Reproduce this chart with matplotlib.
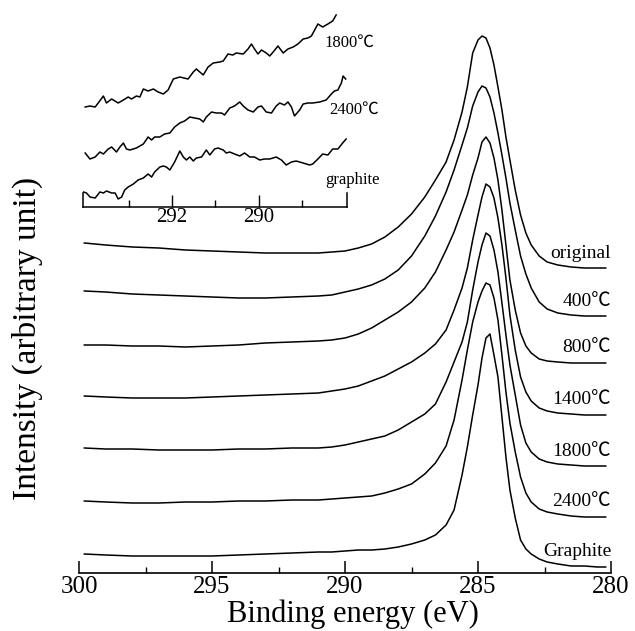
import matplotlib
matplotlib.use("Agg")
import matplotlib.pyplot as plt
from matplotlib.ticker import MultipleLocator, FixedLocator

# ---- main panel: C1s spectra, energies (eV) shared by all curves ----
energy = [299.8, 299.0, 298.0, 297.0, 296.0, 295.0, 294.0, 293.0, 292.0, 291.0,
          290.5, 290.0, 289.5, 289.0, 288.5, 288.0, 287.5, 287.0, 286.6, 286.2,
          285.9, 285.6, 285.4, 285.2, 285.0, 284.85, 284.7, 284.55, 284.4, 284.25,
          284.1, 283.95, 283.8, 283.6, 283.4, 283.2, 283.0, 282.7, 282.4, 282.0,
          281.5, 281.0, 280.5, 280.2]

original = [25, 23, 21, 20, 18, 17, 16, 15, 15, 15,
            16, 17, 20, 24, 31, 41, 54, 71, 88, 106,
            128, 156, 181, 215, 228, 232, 230, 220, 203, 181,
            158, 131, 108, 78, 53, 35, 23, 12, 6, 3,
            1, 0, 0, 0]
t400 = [25, 24, 22, 21, 20, 19, 18, 18, 19, 20,
        21, 24, 27, 31, 37, 46, 60, 80, 100, 124,
        146, 171, 188, 210, 224, 230, 228, 219, 203, 183,
        161, 138, 113, 86, 60, 42, 28, 14, 7, 3,
        1, 0, 0, 0]
t800 = [18, 18, 17, 17, 16, 17, 18, 20, 21, 22,
        23, 25, 29, 35, 43, 51, 61, 75, 91, 113,
        131, 153, 168, 188, 205, 221, 226, 220, 205, 183,
        153, 118, 83, 53, 30, 17, 10, 4, 2, 1,
        0, 0, 0, 0]
t1400 = [19, 18, 17, 17, 17, 18, 19, 20, 21, 22,
         24, 26, 29, 34, 39, 46, 53, 62, 71, 85,
         105, 127, 147, 175, 200, 218, 231, 228, 217, 197,
         170, 137, 100, 65, 38, 23, 14, 7, 4, 2,
         1, 0, 0, 0]
t1800 = [18, 17, 17, 16, 16, 16, 17, 17, 18, 18,
         19, 21, 24, 27, 30, 36, 44, 52, 62, 84,
         104, 124, 144, 176, 204, 221, 233, 230, 216, 194,
         163, 131, 101, 71, 41, 23, 14, 7, 4, 2,
         1, 0, 0, 0]
t2400 = [16, 15, 14, 14, 15, 15, 16, 16, 17, 17,
         18, 19, 20, 21, 24, 28, 33, 43, 54, 71,
         97, 137, 167, 195, 215, 226, 234, 232, 219, 197,
         162, 125, 94, 65, 40, 24, 15, 8, 5, 3,
         1, 0, 0, 0]
graphite = [13, 12, 11, 11, 11, 11, 12, 13, 14, 15,
            15, 16, 17, 17, 18, 20, 23, 27, 32, 42,
            57, 92, 120, 152, 182, 209, 229, 233, 212, 190,
            150, 110, 77, 49, 27, 18, 13, 8, 5, 3,
            1, 1, 0, 0]

series = [original, t400, t800, t1400, t1800, t2400, graphite]
names = ["original", "400\u2103", "800\u2103", "1400\u2103", "1800\u2103",
         "2400\u2103", "Graphite"]
offsets = [363, 315, 268, 216, 165, 114, 64]

# ---- inset: 294-288 eV region, three samples ----
in_e_1800 = [294.0, 293.89, 293.77, 293.70, 293.58, 293.51, 293.39, 293.24, 293.12,
             293.01, 292.93, 292.82, 292.74, 292.66, 292.55, 292.43, 292.32, 292.20,
             292.09, 291.97, 291.82, 291.63, 291.51, 291.44, 291.36, 291.28, 291.17,
             291.05, 290.90, 290.82, 290.71, 290.60, 290.52, 290.36, 290.25, 290.17,
             290.10, 290.02, 289.94, 289.83, 289.75, 289.67, 289.56, 289.44, 289.33,
             289.21, 289.10, 288.98, 288.87, 288.79, 288.64, 288.53, 288.41, 288.30,
             288.22]
in_i_1800 = [5, 6, 5, 9, 16, 9, 13, 9, 12, 15, 13, 16, 15, 23, 21, 23, 20, 18, 22,
             33, 35, 33, 40, 43, 40, 37, 45, 49, 50, 51, 58, 57, 59, 58, 63, 68, 63,
             58, 62, 59, 56, 60, 66, 59, 63, 65, 68, 73, 74, 76, 88, 85, 88, 91, 97]

in_e_2400 = [294.0, 293.89, 293.77, 293.66, 293.58, 293.47, 293.39, 293.28, 293.20,
             293.12, 293.05, 292.97, 292.82, 292.66, 292.55, 292.47, 292.40, 292.28,
             292.17, 292.05, 291.94, 291.82, 291.71, 291.59, 291.48, 291.36, 291.28,
             291.21, 291.09, 290.98, 290.86, 290.79, 290.67, 290.56, 290.44, 290.36,
             290.25, 290.13, 290.02, 289.94, 289.83, 289.71, 289.60, 289.52, 289.41,
             289.33, 289.25, 289.18, 289.06, 288.98, 288.87, 288.76, 288.60, 288.45,
             288.33, 288.26, 288.18, 288.10, 288.06, 288.0]
in_i_2400 = [9, 3, 5, 10, 8, 13, 15, 10, 15, 19, 13, 12, 14, 18, 25, 22, 25, 25, 28,
             29, 35, 39, 41, 45, 44, 43, 40, 45, 50, 49, 49, 47, 54, 56, 60, 56, 52,
             50, 55, 56, 50, 49, 56, 59, 57, 60, 55, 46, 52, 58, 59, 59, 60, 62, 68,
             71, 72, 79, 86, 83]

in_e_gr = [294.04, 293.97, 293.89, 293.77, 293.66, 293.58, 293.51, 293.39, 293.31,
           293.24, 293.16, 293.09, 293.01, 292.89, 292.78, 292.66, 292.55, 292.47,
           292.40, 292.28, 292.20, 292.13, 292.05, 291.94, 291.82, 291.74, 291.67,
           291.59, 291.51, 291.44, 291.32, 291.21, 291.13, 291.02, 290.94, 290.82,
           290.75, 290.67, 290.56, 290.44, 290.33, 290.21, 290.10, 289.98, 289.87,
           289.75, 289.60, 289.48, 289.37, 289.25, 289.14, 288.98, 288.83, 288.76,
           288.64, 288.53, 288.41, 288.30, 288.18, 288.07, 287.99]
in_i_gr = [15, 14, 10, 9, 15, 14, 16, 14, 14, 8, 10, 17, 20, 23, 27, 29, 33, 30, 35,
           40, 41, 40, 37, 45, 56, 50, 47, 50, 46, 49, 50, 57, 52, 58, 59, 57, 54, 55,
           53, 51, 54, 50, 50, 47, 48, 48, 50, 47, 42, 45, 46, 44, 42, 43, 48, 53, 52,
           58, 58, 64, 68]

inset_series = [(in_e_1800, in_i_1800), (in_e_2400, in_i_2400), (in_e_gr, in_i_gr)]
inset_names = ["1800\u2103", "2400\u2103", "graphite"]
inset_offsets = [95, 45, 0]

FONT = ["Liberation Serif", "Noto Sans CJK SC"]
plt.rcParams["font.family"] = FONT

fig = plt.figure(figsize=(6.35, 6.31), dpi=100)

ax = fig.add_axes([79 / 635, 58 / 631, 532 / 635, 573 / 631])
for y, off, name in zip(series, offsets, names):
    ax.plot(energy, [v + off for v in y], color="black", lw=1.1)
    ax.text(280, off + 15, name, ha="right", va="center", fontsize=14)
ax.set_xlim(300, 280)
ax.set_ylim(58, 631)
for s in ["top", "left", "right"]:
    ax.spines[s].set_visible(False)
ax.spines["bottom"].set_linewidth(1.2)
ax.set_yticks([])
ax.xaxis.set_major_locator(MultipleLocator(5))
ax.xaxis.set_minor_locator(MultipleLocator(2.5))
ax.tick_params(axis="x", which="major", direction="in", length=9, width=1.1,
               labelsize=18, pad=2)
ax.tick_params(axis="x", which="minor", direction="in", length=4.5, width=1.0)
fig.text(353 / 635, (631 - 614) / 631, "Binding energy (eV)", ha="center",
         va="center", fontsize=22)
fig.text(27 / 635, (631 - 338) / 631, "Intensity (arbitrary unit)", ha="center",
         va="center", rotation=90, fontsize=24)

# inset
ins = fig.add_axes([83 / 635, (631 - 207) / 631, 264 / 635, 207 / 631])
ins.patch.set_alpha(0)
for (e, i), off in zip(inset_series, inset_offsets):
    ins.plot(e, [v + off for v in i], color="black", lw=1.1)
ins.text(288.48, 164, inset_names[0], ha="left", va="center", fontsize=12)
ins.text(288.37, 97, inset_names[1], ha="left", va="center", fontsize=12)
ins.text(288.48, 27, inset_names[2], ha="left", va="center", fontsize=12)
ins.set_xlim(294.05, 287.97)
ins.set_ylim(0, 207)
ins.spines["top"].set_visible(False)
ins.spines["left"].set_bounds(0, 14)
ins.spines["right"].set_bounds(0, 14)
for s in ["bottom", "left", "right"]:
    ins.spines[s].set_linewidth(1.1)
ins.set_yticks([])
ins.xaxis.set_major_locator(FixedLocator([292, 290]))
ins.xaxis.set_minor_locator(FixedLocator([293, 291, 289]))
ins.tick_params(axis="x", which="major", direction="in", length=8.5, width=1.0,
                labelsize=15, pad=1)
ins.tick_params(axis="x", which="minor", direction="in", length=5, width=1.0)

fig.savefig("out.png", dpi=100)
